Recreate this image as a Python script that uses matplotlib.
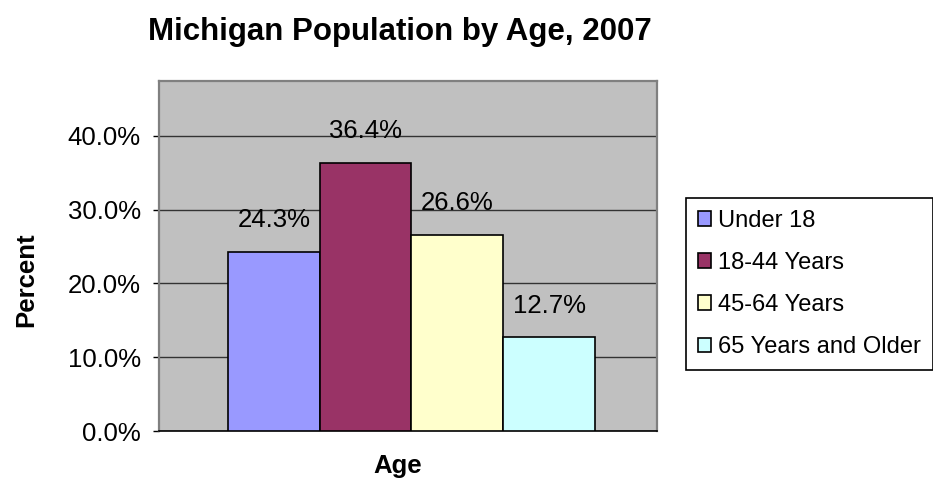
import matplotlib.pyplot as plt
from matplotlib.patches import Patch
from matplotlib.ticker import FuncFormatter

groups = ['Under 18', '18-44 Years', '45-64 Years', '65 Years and Older']
share = [0.243, 0.364, 0.266, 0.127]
yticks = [0.0, 0.1, 0.2, 0.3, 0.4]

colors = ['#9999FF', '#993366', '#FFFFCC', '#CCFFFF']


def main():
    plt.rcParams['font.family'] = ['Liberation Sans', 'DejaVu Sans']

    fig = plt.figure(figsize=(9.33, 4.86), dpi=100)
    ax = fig.add_axes([159 / 933, 1 - 431 / 486, 498 / 933, 350 / 486])
    ax.set_facecolor('#C0C0C0')

    xs = list(range(len(groups)))
    bars = ax.bar(xs, share, width=1.0, color=colors, edgecolor='black',
                  linewidth=1.2, zorder=3)
    for b, v in zip(bars, share):
        ax.annotate('{:.1%}'.format(v), (b.get_x() + b.get_width() / 2, v),
                    xytext=(0, 14), textcoords='offset points',
                    ha='center', va='bottom', fontsize=18.5)

    ax.set_xlim(-1.252, 4.176)
    ax.set_ylim(0, 0.4745)
    ax.set_yticks(yticks)
    ax.yaxis.set_major_formatter(FuncFormatter(lambda v, p: '{:.1%}'.format(v)))
    ax.tick_params(axis='y', direction='out', length=4, width=1,
                   pad=9, labelsize=18.5, colors='black')
    ax.set_xticks([])
    ax.yaxis.grid(True, color='#333333', linewidth=1.0, zorder=1)
    ax.set_axisbelow(True)

    for side in ['left', 'top', 'right']:
        ax.spines[side].set_color('#808080')
        ax.spines[side].set_linewidth(1.6)
    ax.spines['bottom'].set_color('black')
    ax.spines['bottom'].set_linewidth(1.2)

    fig.text(400 / 933, 1 - 40 / 486, 'Michigan Population by Age, 2007',
             ha='center', va='baseline', fontsize=22.5, fontweight='bold')
    fig.text(26 / 933, 1 - 280 / 486, 'Percent', rotation=90,
             ha='center', va='center', fontsize=18.5, fontweight='bold')
    fig.text(398 / 933, 1 - 466 / 486, 'Age',
             ha='center', va='center', fontsize=18.5, fontweight='bold')

    handles = [Patch(facecolor=c, edgecolor='black', linewidth=1.2) for c in colors]
    leg = fig.legend(handles, groups, loc='upper left',
                     bbox_to_anchor=(686 / 933, 1 - 198 / 486), borderaxespad=0,
                     fontsize=17, frameon=True, fancybox=False,
                     handlelength=0.55, handleheight=0.55, handletextpad=0.3,
                     labelspacing=0.85, borderpad=0.5)
    leg.get_frame().set_edgecolor('black')
    leg.get_frame().set_linewidth(1.2)
    leg.get_frame().set_alpha(1)

    fig.savefig('out.png', dpi=100)


if __name__ == '__main__':
    main()
